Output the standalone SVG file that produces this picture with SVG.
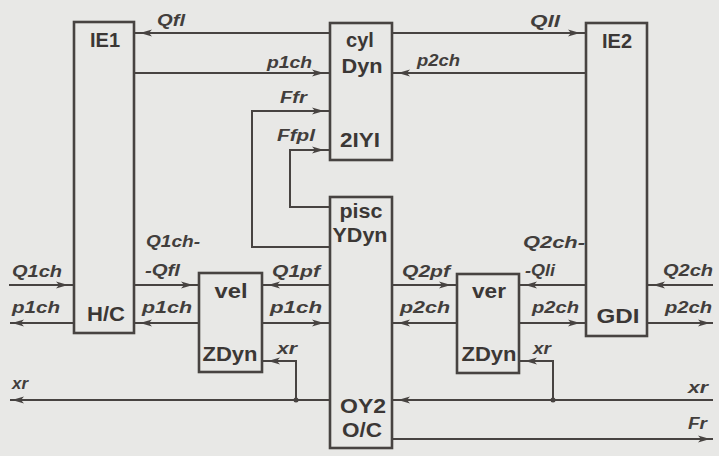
<svg xmlns="http://www.w3.org/2000/svg" xmlns:xlink="http://www.w3.org/1999/xlink" width="719" height="456" viewBox="0 0 719 456">
<style>
.bg{fill:#e8e8e6}
.box{fill:none;stroke:#474341;stroke-width:2.6}
.ln{fill:none;stroke:#474341;stroke-width:2}
.bt{font-family:"Liberation Sans",Arial,sans-serif;font-weight:bold;font-size:20px;fill:#3b3735;text-anchor:middle}
.lb{font-family:"Liberation Sans",Arial,sans-serif;font-style:italic;font-weight:bold;font-size:16px;fill:#423e3c}
.ah{fill:#474341}
.dot{fill:#474341}
</style>
<defs>
<path id="ah" class="ah" d="M0,0 L-12,-3.5 L-9,0 L-12,3.5 Z"/>
</defs>
<rect class="bg" x="0" y="0" width="719" height="456"/>

<g id="IE1">
<rect class="box" x="74" y="22" width="60" height="311"/>
<text class="bt" x="105" y="47">IE1</text>
<text class="bt" x="106" y="321" textLength="38" lengthAdjust="spacingAndGlyphs">H/C</text>
</g>
<g id="cyl">
<rect class="box" x="330" y="23" width="62" height="137"/>
<text class="bt" x="360" y="47">cyl</text>
<text class="bt" x="362" y="73" textLength="41" lengthAdjust="spacingAndGlyphs">Dyn</text>
<text class="bt" x="360" y="147" textLength="40" lengthAdjust="spacingAndGlyphs">2IYI</text>
</g>
<g id="pisc">
<rect class="box" x="330" y="197" width="62" height="251"/>
<text class="bt" x="361" y="218" textLength="43" lengthAdjust="spacingAndGlyphs">pisc</text>
<text class="bt" x="360" y="242" textLength="55" lengthAdjust="spacingAndGlyphs">YDyn</text>
<text class="bt" x="363" y="413" textLength="46" lengthAdjust="spacingAndGlyphs">OY2</text>
<text class="bt" x="362" y="437" textLength="40" lengthAdjust="spacingAndGlyphs">O/C</text>
</g>
<g id="IE2">
<rect class="box" x="586" y="23" width="61" height="313"/>
<text class="bt" x="617" y="48">IE2</text>
<text class="bt" x="618" y="323" textLength="43" lengthAdjust="spacingAndGlyphs">GDI</text>
</g>
<g id="vel">
<rect class="box" x="199" y="273" width="63" height="99"/>
<text class="bt" x="231" y="298" textLength="33" lengthAdjust="spacingAndGlyphs">vel</text>
<text class="bt" x="230" y="361" textLength="55" lengthAdjust="spacingAndGlyphs">ZDyn</text>
</g>
<g id="ver">
<rect class="box" x="457" y="274" width="62" height="99"/>
<text class="bt" x="489" y="298" textLength="34" lengthAdjust="spacingAndGlyphs">ver</text>
<text class="bt" x="489" y="361" textLength="55" lengthAdjust="spacingAndGlyphs">ZDyn</text>
</g>

<g id="connectors">
<path class="ln" d="M134,33 H330"/>
<use xlink:href="#ah" transform="translate(140,33) rotate(180)"/>
<text class="lb" x="157" y="26" textLength="28" lengthAdjust="spacingAndGlyphs">Qfl</text>

<path class="ln" d="M134,73 H330"/>
<use xlink:href="#ah" transform="translate(324,73)"/>
<text class="lb" x="267" y="68" textLength="45" lengthAdjust="spacingAndGlyphs">p1ch</text>

<path class="ln" d="M330,247 H252 V111 H330"/>
<use xlink:href="#ah" transform="translate(324,111)"/>
<text class="lb" x="280" y="103" textLength="27" lengthAdjust="spacingAndGlyphs">Ffr</text>

<path class="ln" d="M330,207 H290 V150 H330"/>
<use xlink:href="#ah" transform="translate(324,150)"/>
<text class="lb" x="277" y="141" textLength="38" lengthAdjust="spacingAndGlyphs">Ffpl</text>

<path class="ln" d="M392,33 H586"/>
<use xlink:href="#ah" transform="translate(580,33)"/>
<text class="lb" x="530" y="27" textLength="30" lengthAdjust="spacingAndGlyphs">Qll</text>

<path class="ln" d="M586,73 H392"/>
<use xlink:href="#ah" transform="translate(398,73) rotate(180)"/>
<text class="lb" x="417" y="66" textLength="43" lengthAdjust="spacingAndGlyphs">p2ch</text>

<path class="ln" d="M9,285 H74"/>
<use xlink:href="#ah" transform="translate(68,285)"/>
<text class="lb" x="12" y="277" textLength="50" lengthAdjust="spacingAndGlyphs">Q1ch</text>

<path class="ln" d="M74,323 H10"/>
<use xlink:href="#ah" transform="translate(12,323) rotate(180)"/>
<text class="lb" x="12" y="313" textLength="48" lengthAdjust="spacingAndGlyphs">p1ch</text>

<path class="ln" d="M134,285 H199"/>
<use xlink:href="#ah" transform="translate(193,285)"/>
<text class="lb" x="146" y="247" textLength="54" lengthAdjust="spacingAndGlyphs">Q1ch-</text>
<text class="lb" x="145" y="276" textLength="35" lengthAdjust="spacingAndGlyphs">-Qfl</text>

<path class="ln" d="M199,323 H134"/>
<use xlink:href="#ah" transform="translate(140,323) rotate(180)"/>
<text class="lb" x="142" y="313" textLength="50" lengthAdjust="spacingAndGlyphs">p1ch</text>

<path class="ln" d="M330,285 H262"/>
<use xlink:href="#ah" transform="translate(268,285) rotate(180)"/>
<text class="lb" x="272" y="277" textLength="48" lengthAdjust="spacingAndGlyphs">Q1pf</text>

<path class="ln" d="M262,323 H330"/>
<use xlink:href="#ah" transform="translate(324,323)"/>
<text class="lb" x="270" y="313" textLength="52" lengthAdjust="spacingAndGlyphs">p1ch</text>

<path class="ln" d="M296,400 V361 H262"/>
<use xlink:href="#ah" transform="translate(268,361) rotate(180)"/>
<text class="lb" x="277" y="354" textLength="20" lengthAdjust="spacingAndGlyphs">xr</text>

<path class="ln" d="M330,400 H10"/>
<use xlink:href="#ah" transform="translate(12,400) rotate(180)"/>
<circle class="dot" cx="296" cy="400" r="2.5"/>
<text class="lb" x="12" y="389" textLength="16" lengthAdjust="spacingAndGlyphs">xr</text>

<path class="ln" d="M392,285 H457"/>
<use xlink:href="#ah" transform="translate(451,285)"/>
<text class="lb" x="402" y="277" textLength="48" lengthAdjust="spacingAndGlyphs">Q2pf</text>

<path class="ln" d="M457,323 H392"/>
<use xlink:href="#ah" transform="translate(398,323) rotate(180)"/>
<text class="lb" x="400" y="313" textLength="50" lengthAdjust="spacingAndGlyphs">p2ch</text>

<path class="ln" d="M586,285 H519"/>
<use xlink:href="#ah" transform="translate(525,285) rotate(180)"/>
<text class="lb" x="523" y="248" textLength="62" lengthAdjust="spacingAndGlyphs">Q2ch-</text>
<text class="lb" x="525" y="276" textLength="30" lengthAdjust="spacingAndGlyphs">-Qli</text>

<path class="ln" d="M519,323 H586"/>
<use xlink:href="#ah" transform="translate(580,323)"/>
<text class="lb" x="532" y="313" textLength="47" lengthAdjust="spacingAndGlyphs">p2ch</text>

<path class="ln" d="M713,285 H647"/>
<use xlink:href="#ah" transform="translate(653,285) rotate(180)"/>
<text class="lb" x="663" y="276" textLength="50" lengthAdjust="spacingAndGlyphs">Q2ch</text>

<path class="ln" d="M647,323 H713"/>
<use xlink:href="#ah" transform="translate(710,323)"/>
<text class="lb" x="665" y="313" textLength="47" lengthAdjust="spacingAndGlyphs">p2ch</text>

<path class="ln" d="M553,400 V361 H519"/>
<use xlink:href="#ah" transform="translate(525,361) rotate(180)"/>
<text class="lb" x="533" y="354" textLength="18" lengthAdjust="spacingAndGlyphs">xr</text>

<path class="ln" d="M713,400 H392"/>
<use xlink:href="#ah" transform="translate(398,400) rotate(180)"/>
<circle class="dot" cx="553" cy="400" r="2.5"/>
<text class="lb" x="688" y="393" textLength="20" lengthAdjust="spacingAndGlyphs">xr</text>

<path class="ln" d="M392,439 H713"/>
<use xlink:href="#ah" transform="translate(710,439)"/>
<text class="lb" x="688" y="429" textLength="19" lengthAdjust="spacingAndGlyphs">Fr</text>
</g>
</svg>
